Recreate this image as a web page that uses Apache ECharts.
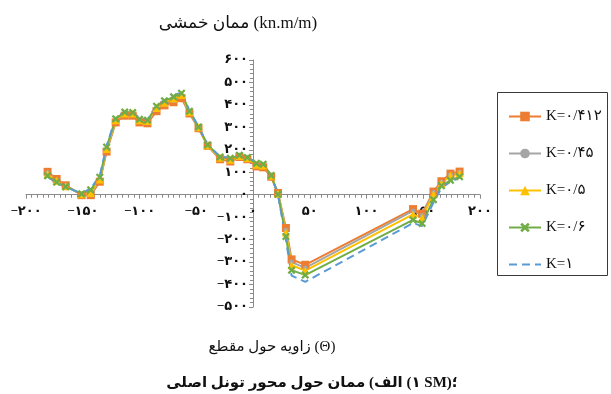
<!DOCTYPE html>
<html lang="fa" dir="ltr">
<head>
<meta charset="utf-8">
<script src="https://cdn.jsdelivr.net/npm/echarts@6/dist/echarts.min.js"></script>
<style>
  html, body { margin: 0; padding: 0; background: #fff; }
  #chart { width: 611px; height: 394px; }
</style>
</head>
<body>
<div id="chart"></div>
<script>
// Angle around the section (degrees)
const theta = [-181, -173, -165, -151, -143, -135, -129, -121, -113, -106, -100, -93, -85, -78, -70, -63, -56, -48, -40, -29, -20, -12, -5, 3, 9, 16, 22, 29, 34, 46, 141, 149, 159, 166, 174, 182];

// Bending moment (kN.m/m) for each K
const mK0412 = [102, 70, 42, -2, -2, 58, 192, 322, 352, 352, 322, 318, 372, 398, 412, 430, 362, 296, 218, 158, 148, 168, 158, 126, 122, 80, 8, -148, -288, -312, -64, -84, 14, 60, 94, 103];
const mK045  = [98, 66, 40, 0, 2, 64, 198, 328, 358, 358, 328, 324, 380, 404, 420, 438, 366, 298, 220, 162, 152, 170, 160, 130, 126, 82, 6, -158, -300, -326, -72, -92, 10, 56, 90, 100];
const mK05   = [92, 62, 38, 2, 8, 68, 204, 332, 362, 362, 332, 328, 386, 410, 428, 444, 368, 300, 220, 165, 156, 172, 162, 134, 130, 84, 4, -168, -314, -338, -88, -102, 2, 50, 86, 96];
const mK06   = [84, 56, 36, 4, 22, 78, 212, 338, 368, 366, 336, 332, 394, 418, 436, 452, 372, 302, 222, 168, 162, 176, 166, 140, 136, 86, 2, -186, -336, -358, -112, -128, -22, 40, 64, 80];
const mK1    = [80, 52, 34, 6, 28, 84, 218, 342, 372, 370, 340, 336, 398, 422, 440, 458, 374, 304, 224, 170, 164, 178, 168, 142, 138, 88, 0, -200, -360, -388, -126, -140, -35, 30, 58, 76];

const seriesNames = ['K=۰/۴۱۲', 'K=۰/۴۵', 'K=۰/۵', 'K=۰/۶', 'K=۱'];

const xTicks = { min: -200, max: 200, step: 50 };
const yTicks = { min: -500, max: 600, step: 100 };

const titleText = 'ممان خمشی (kn.m/m)';
const xName = 'زاویه حول مقطع (Θ)';
const caption = 'الف) ممان حول محور تونل اصلی (۱ SM)؛';

// Persian digits with a typographic minus
const faDigits = '۰۱۲۳۴۵۶۷۸۹';
function fa(v) {
  return String(v).replace(/\d/g, d => faDigits[+d]).replace('-', '−');
}

function pairs(arr) {
  return theta.map((t, i) => [t, arr[i]]);
}

const serifFont = '"Liberation Serif", "DejaVu Sans", serif';
const xMarker = 'path://M2,0L5,3L8,0L10,2L7,5L10,8L8,10L5,7L2,10L0,8L3,5L0,2Z';

// Plot box; the axes cross at the origin inside it
const grid = { left: 26, right: 131, top: 60, bottom: 87 };
const W = 611, H = 394;
const plotW = W - grid.left - grid.right;
const plotH = H - grid.top - grid.bottom;
// distance of the origin from the left and bottom edges of the plot box
const yAxisShift = (0 - xTicks.min) / (xTicks.max - xTicks.min) * plotW;
const xAxisShift = (0 - yTicks.min) / (yTicks.max - yTicks.min) * plotH;

const styles = [
  { color: '#ED7D31', symbol: 'rect', size: 8, dash: 'solid' },
  { color: '#A5A5A5', symbol: 'circle', size: 5, dash: 'solid' },
  { color: '#FFC000', symbol: 'triangle', size: 8, dash: 'solid' },
  { color: '#70AD47', symbol: xMarker, size: 8, dash: 'solid' },
  { color: '#5B9BD5', symbol: 'none', size: 0, dash: [8, 5] }
];
const values = [mK0412, mK045, mK05, mK06, mK1];

const series = values.map((arr, i) => ({
  name: seriesNames[i],
  type: 'line',
  data: pairs(arr),
  smooth: false,
  symbol: styles[i].symbol,
  symbolSize: styles[i].size,
  showSymbol: styles[i].symbol !== 'none',
  itemStyle: { color: styles[i].color },
  lineStyle: { color: styles[i].color, width: 2, type: styles[i].dash },
  emphasis: { disabled: true },
  animation: false
}));

const legendData = seriesNames.map((n, i) =>
  styles[i].symbol === 'none' ? { name: n, itemStyle: { opacity: 0 } } : { name: n });

const chart = echarts.init(document.getElementById('chart'), null, { renderer: 'canvas' });
chart.setOption({
  backgroundColor: '#fff',
  animation: false,
  title: [
    { text: titleText, left: 233, top: 10, textAlign: 'center',
      textStyle: { fontFamily: serifFont, fontSize: 17, fontWeight: 'normal', color: '#111' } },
    { text: xName, left: 267, top: 335, textAlign: 'center',
      textStyle: { fontFamily: serifFont, fontSize: 15, fontWeight: 'normal', color: '#111' } },
    { text: caption, left: 307, top: 371, textAlign: 'center',
      textStyle: { fontFamily: serifFont, fontSize: 15, fontWeight: 'bold', color: '#111' } }
  ],
  grid: Object.assign({ containLabel: false }, grid),
  xAxis: {
    type: 'value',
    position: 'bottom',
    offset: -xAxisShift,
    min: xTicks.min, max: xTicks.max, interval: xTicks.step,
    axisLine: { onZero: false, lineStyle: { color: '#8a8a8a', width: 1 } },
    axisTick: { show: true, length: 4, lineStyle: { color: '#8a8a8a' } },
    minorTick: { show: true, splitNumber: 10, length: 3, lineStyle: { color: '#8a8a8a' } },
    splitLine: { show: false },
    axisLabel: { formatter: fa, margin: 10, fontSize: 13, fontWeight: 'bold', color: '#111',
      fontFamily: serifFont }
  },
  yAxis: {
    type: 'value',
    position: 'left',
    offset: -yAxisShift,
    min: yTicks.min, max: yTicks.max, interval: yTicks.step,
    axisLine: { onZero: false, lineStyle: { color: '#8a8a8a', width: 1 } },
    axisTick: { show: true, length: 4, lineStyle: { color: '#8a8a8a' } },
    minorTick: { show: true, splitNumber: 5, length: 3, lineStyle: { color: '#8a8a8a' } },
    splitLine: { show: false },
    axisLabel: { formatter: fa, margin: 5, fontSize: 13, fontWeight: 'bold', color: '#111',
      fontFamily: serifFont }
  },
  legend: {
    orient: 'vertical',
    left: 503, top: 104,
    itemWidth: 32, itemHeight: 12, itemGap: 22,
    textStyle: { fontFamily: serifFont, fontSize: 15, color: '#111' },
    data: legendData
  },
  graphic: [{
    type: 'rect',
    shape: { x: 497.5, y: 92.5, width: 110, height: 183 },
    style: { fill: 'none', stroke: '#3a3a3a', lineWidth: 1 },
    silent: true
  }],
  series: series
});
</script>
</body>
</html>
